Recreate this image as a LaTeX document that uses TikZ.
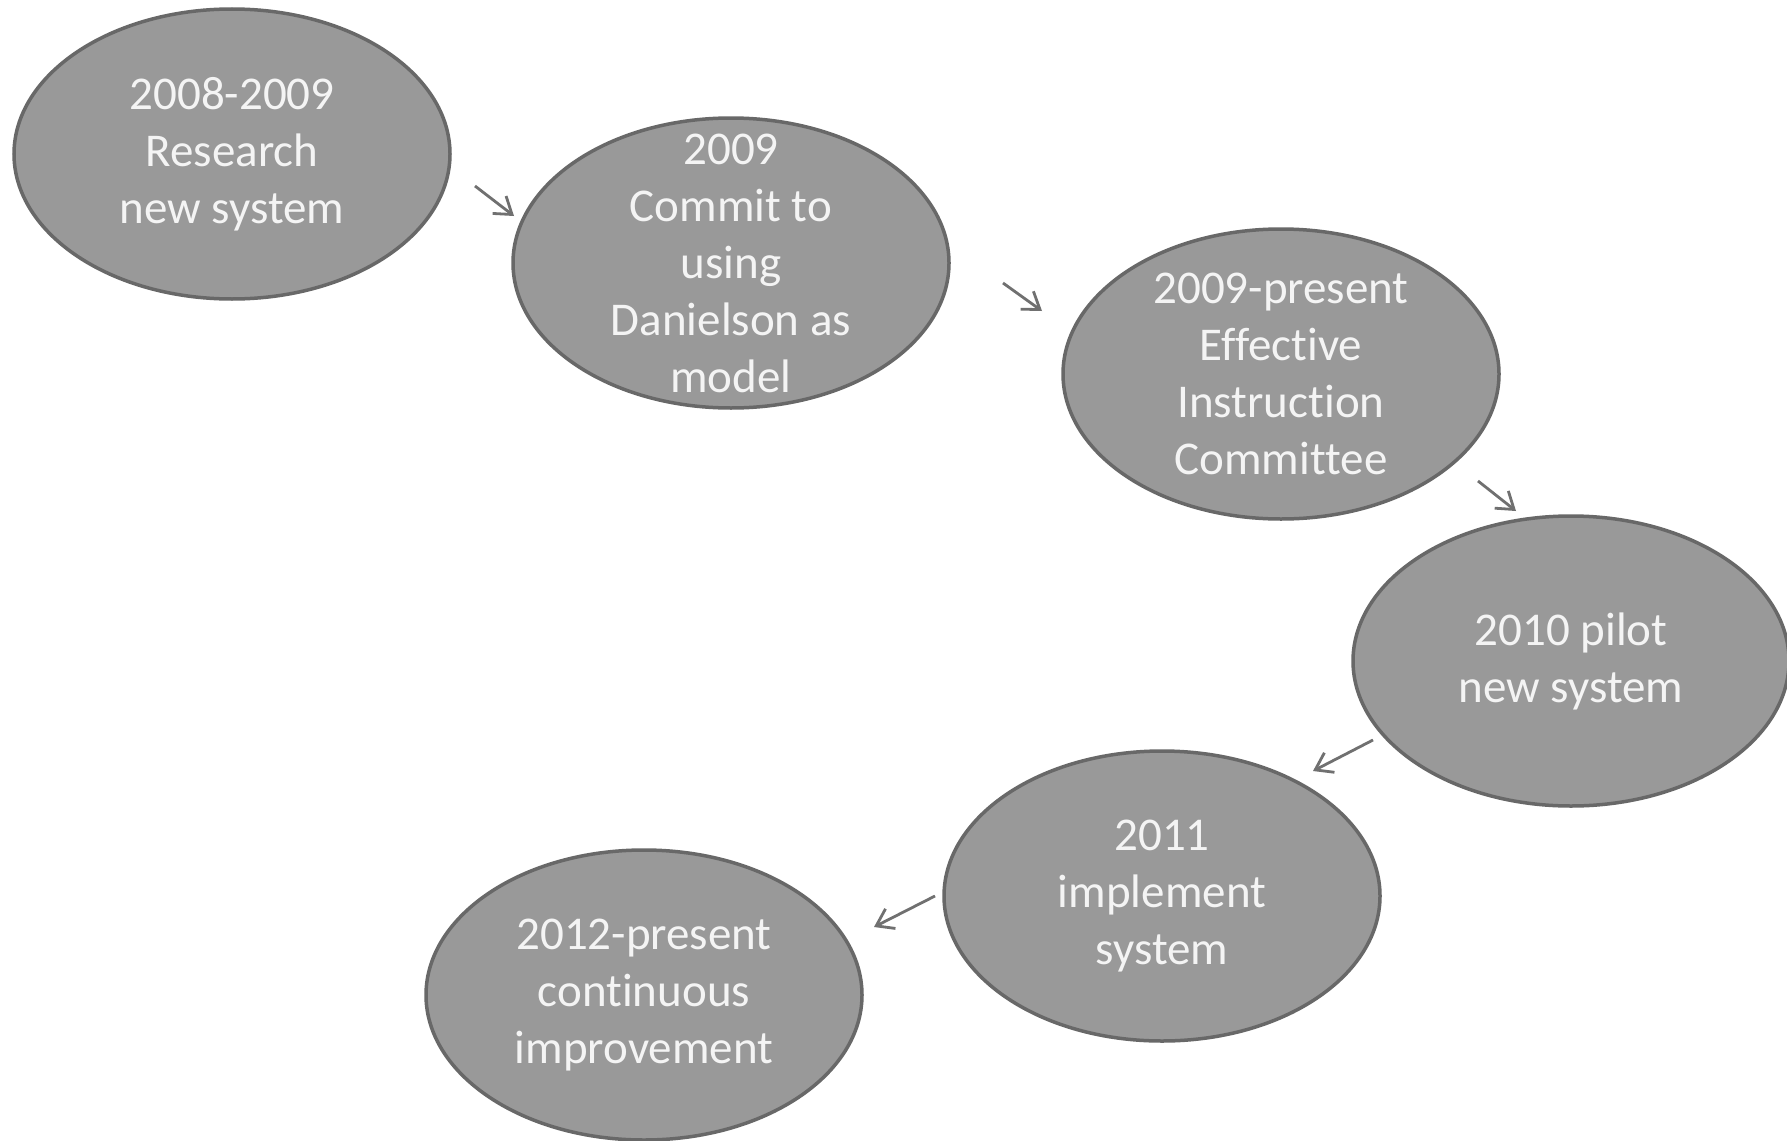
\documentclass[tikz,border=0pt]{standalone}
\usepackage{fontspec}
\setmainfont[Ligatures=NoCommon]{Carlito}
\usetikzlibrary{shapes.geometric,arrows.meta}
\definecolor{ellfill}{RGB}{153,153,153}
\definecolor{elldraw}{RGB}{104,104,104}
\definecolor{txtcol}{RGB}{244,244,244}
\definecolor{arrcol}{RGB}{112,112,112}
\tikzset{
  ell/.style={ellipse, draw=elldraw, fill=ellfill, line width=3.5pt,
    minimum width=436pt, minimum height=290pt, inner sep=0pt},
  eltext/.style={text=txtcol, align=center, inner sep=0pt,
    font=\fontsize{47}{57}\selectfont},
  conn/.style={draw=arrcol, line width=2.8pt,
    -{Straight Barb[length=16pt,width=22pt,line width=2.8pt]}}
}
\begin{document}
\begin{tikzpicture}[x=1pt,y=-1pt]
\useasboundingbox[fill=white] (0,0) rectangle (1787,1140);
\node[ell] (e1) at (232,154) {};
\node[ell] (e2) at (731,263) {};
\node[ell] (e3) at (1281,374) {};
\node[ell] (e4) at (1571,661) {};
\node[ell] (e5) at (1162,896) {};
\node[ell] (e6) at (644,995) {};
\node[eltext] (t1) at (e1) {2008-2009\\Research\\new system};
\node[eltext] (t2) at (e2) {2009\\Commit to\\using\\Danielson as\\model};
\node[eltext] (t3) at (e3) {2009-present\\Effective\\Instruction\\Committee};
\node[eltext] (t4) at (e4) {2010 pilot\\new system};
\node[eltext] (t5) at (e5) {2011\\implement\\system};
\node[eltext] (t6) at (e6) {2012-present\\continuous\\improvement};
\coordinate (a1s) at (475,186); \coordinate (a1e) at (514,216);
\coordinate (a2s) at (1003,283); \coordinate (a2e) at (1042,311);
\coordinate (a3s) at (1478,481); \coordinate (a3e) at (1516,511);
\coordinate (a4s) at (1373,740); \coordinate (a4e) at (1313,771);
\coordinate (a5s) at (935,896); \coordinate (a5e) at (874,927);
\draw[conn] (a1s) -- (a1e);
\draw[conn] (a2s) -- (a2e);
\draw[conn] (a3s) -- (a3e);
\draw[conn] (a4s) -- (a4e);
\draw[conn] (a5s) -- (a5e);
\end{tikzpicture}
\end{document}
